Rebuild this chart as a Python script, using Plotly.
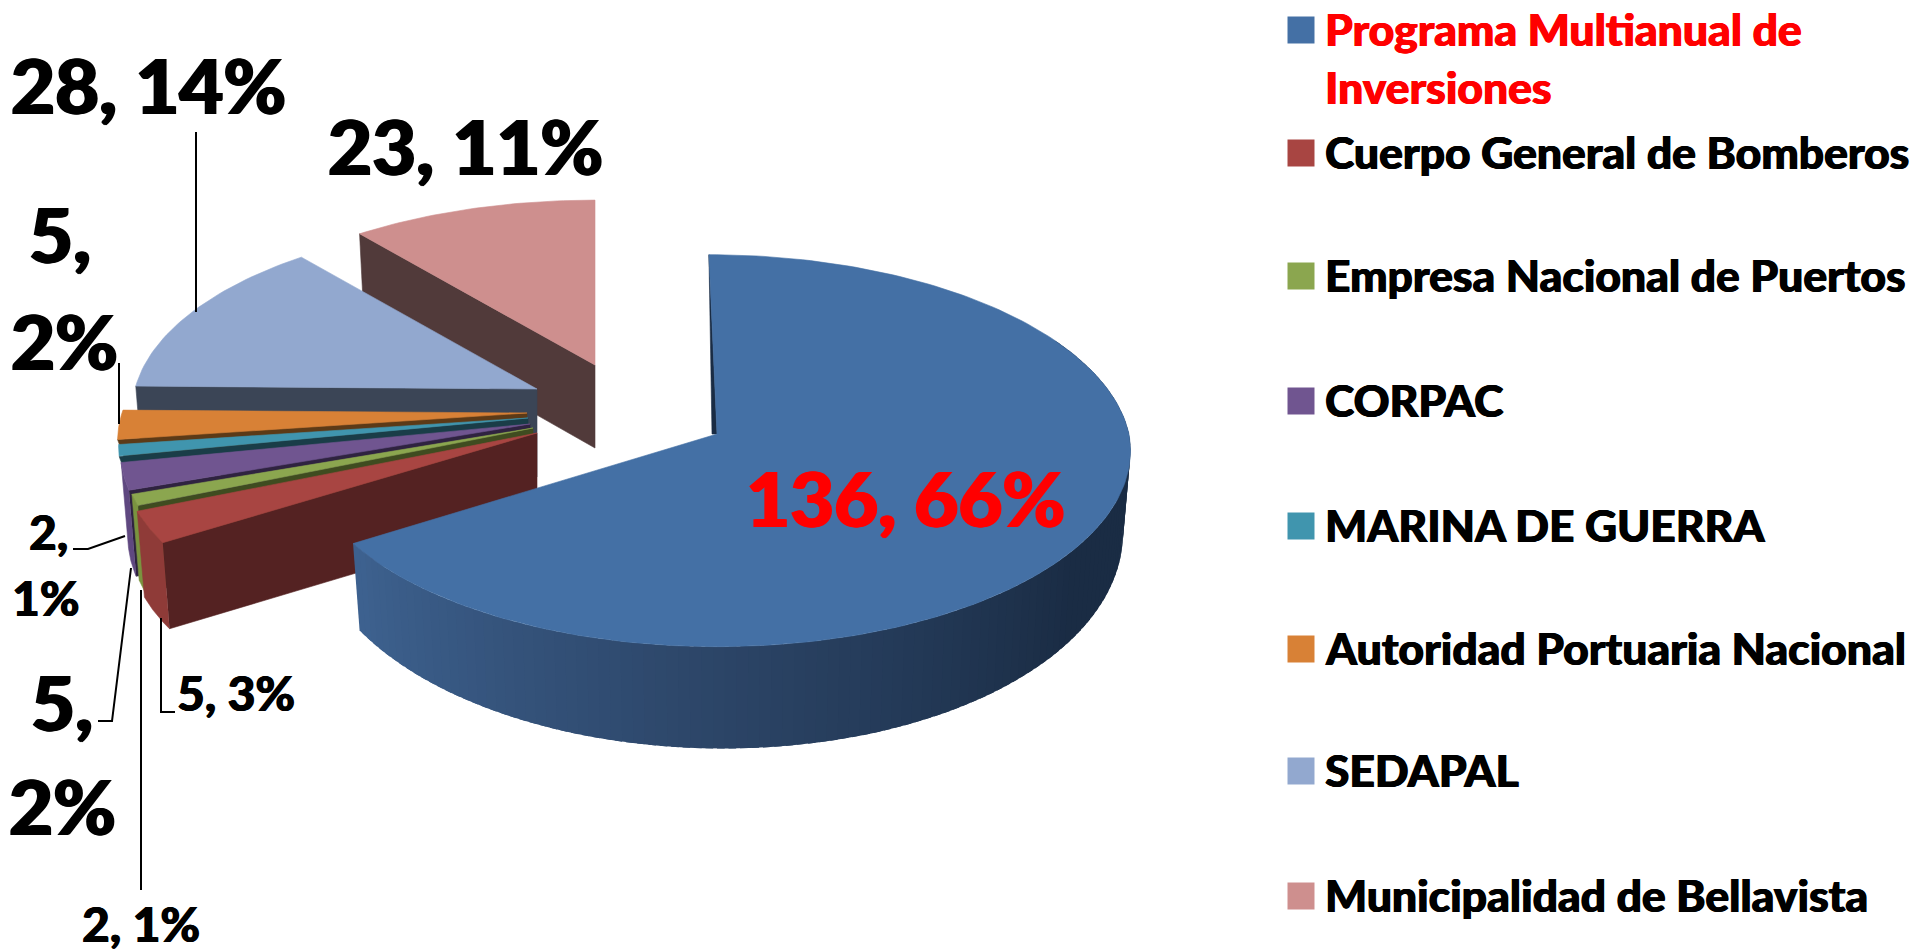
import numpy as np
import plotly.graph_objects as go

# ---- data ----
categories = ["Programa Multianual de<br>Inversiones", "Cuerpo General de Bomberos",
              "Empresa Nacional de Puertos", "CORPAC", "MARINA DE GUERRA",
              "Autoridad Portuaria Nacional", "SEDAPAL", "Municipalidad de Bellavista"]
values = [136, 5.4, 2, 4.6, 2, 5, 28, 23]

top_colors = ["#4470A5", "#A84542", "#8BA64F", "#705590", "#4095AE", "#D88136", "#92A8CF", "#CE8F8E"]
wall_colors = ["#1A2C44", "#542222", "#3F4C20", "#2F2340", "#1A3D48", "#5C3A17", "#3B4556", "#513A3A"]
rim_colors = [None, "#8F3B38", "#7A943F", "#5F4880", None, None, None, None]

# explosion: where each slice's apex ended up, in page pixels
apex_x = [717, 537, 533, 530, 528, 527, 537, 595]
apex_y = [434, 433, 428, 424, 418, 413, 389, 365]
wall_depth = [0, 86, 86, 86, 20, 20, 88, 83]
radius_x = [412, 410, 405, 405, 405, 405, 402, 412]
radius_y = [196, 190, 190, 190, 190, 190, 190, 194]
persp = [0.085, 0.15, 0.15, 0.15, 0.15, 0.15, 0.12, 0.15]

total = sum(values)
edges = 360 * np.cumsum([0] + values) / total
W, H = 1917, 952


def rim(theta, i):
    t = np.radians(theta)
    skew = 0.045 if i == 0 else 0.0
    f = 1 - persp[i] * np.cos(t)
    dx = radius_x[i] * np.sin(t) * f
    dy = -radius_y[i] * np.cos(t) * f
    return apex_x[i] + dx + skew * np.minimum(dy, 0), apex_y[i] + dy


def lower(x, y, i, d):
    return x + (apex_x[i] - x) * 0.018, y + d


fig = go.Figure()


def poly(xs, ys, color, line=0.6):
    fig.add_trace(go.Scatter(x=list(xs), y=list(ys), mode="lines", fill="toself",
                             fillcolor=color, line=dict(color=color, width=line),
                             hoverinfo="skip", showlegend=False))


def seg(xs, ys):
    fig.add_trace(go.Scatter(x=xs, y=ys, mode="lines", line=dict(color="#000000", width=2),
                             hoverinfo="skip", showlegend=False))


# slices painted back to front
for i in [7, 6, 5, 4, 3, 2, 1]:
    a0, a1 = edges[i], edges[i + 1]
    d = wall_depth[i]
    rx0, ry0 = rim(a0, i)
    bx, by = lower(rx0, ry0, i, d)
    poly([rx0, apex_x[i], apex_x[i], bx, rx0], [ry0, apex_y[i], apex_y[i] + d, by, ry0], wall_colors[i])
    th = np.linspace(a0, a1, 40)
    xs, ys = rim(th, i)
    if rim_colors[i]:
        bxs, bys = lower(xs, ys, i, d)
        poly(list(xs) + list(bxs[::-1]), list(ys) + list(bys[::-1]), rim_colors[i])
    poly([apex_x[i]] + list(xs) + [apex_x[i]], [apex_y[i]] + list(ys) + [apex_y[i]], top_colors[i])

# big slice: side with its shading, then the top
a0, a1 = edges[0], edges[1]
grad_t = [60, 125, 180, 237.6]
grad_c = np.array([[26, 44, 68], [26, 44, 68], [44, 69, 103], [62, 98, 144]])


def depth0(theta):
    t = np.radians(theta)
    return 76.3 - 25.5 * np.cos(t) + 3.7 * np.sin(t)


strips = np.arange(60, a1, 1.5).tolist() + [a1]
for s0, s1 in zip(strips[:-1], strips[1:]):
    th = np.linspace(max(s0 - 1.0, 60), s1, 4)
    xs, ys = rim(th, 0)
    bxs, bys = lower(xs, ys, 0, depth0(th))
    mid = (s0 + s1) / 2
    rgb = [np.interp(mid, grad_t, grad_c[:, k]) for k in range(3)]
    col = "rgb(%d,%d,%d)" % tuple(rgb)
    poly(list(xs) + list(bxs[::-1]), list(ys) + list(bys[::-1]), col, 0)

tx, ty = rim(0.0, 0)
poly([tx, apex_x[0] - 5, apex_x[0], tx], [ty, apex_y[0], apex_y[0], ty], wall_colors[0])
th = np.linspace(a0, a1, 200)
xs, ys = rim(th, 0)
poly([apex_x[0]] + list(xs) + [apex_x[0]], [apex_y[0]] + list(ys) + [apex_y[0]], top_colors[0])

# leader lines
seg([196, 196], [132, 312])
seg([119, 119], [363, 424])
seg([73, 88, 125], [549, 549, 536])
seg([98, 112, 131], [721, 721, 568])
seg([141, 141], [590, 890])
seg([175, 161, 161], [712, 712, 618])

# swatches
sw_y = [30, 153, 276, 401, 526, 649, 771, 896]
fig.add_trace(go.Scatter(x=[1301] * 8, y=sw_y, mode="markers",
                         marker=dict(symbol="square", size=27, color=top_colors, line=dict(width=0)),
                         hoverinfo="skip", showlegend=False))


def txt(x, y, s, size, color="#000000", anchor="center"):
    w = 1.2 if size > 60 else 0.6
    shadow = "%.1fpx 0 0 %s, -%.1fpx 0 0 %s" % (w, color, w, color)
    fig.add_annotation(x=x, y=y, xref="x", yref="y", text=s, showarrow=False,
                       xanchor=anchor, yanchor="middle", align="left",
                       font=dict(family="Lato", size=size, color=color, weight=900, shadow=shadow))


def lab(i):
    return "%d" % round(values[i]), "%d%%" % round(100 * values[i] / total)


# legend text
LEG = 44.4
n0 = categories[0].split("<br>")
txt(1323, 28, n0[0], LEG, "#FF0000", "left")
txt(1323, 86, n0[1], LEG, "#FF0000", "left")
for i in range(1, 8):
    txt(1323, sw_y[i] - 2, categories[i], LEG, "#000000", "left")

# data labels
BIG = 76
SMALL = 48
v, p = lab(0); txt(905, 497, "%s, %s" % (v, p), BIG, "#FF0000")
v, p = lab(6); txt(148, 84, "%s, %s" % (v, p), BIG)
v, p = lab(7); txt(465, 145, "%s, %s" % (v, p), BIG)
v, p = lab(5); txt(60, 233, v + ",", BIG); txt(64, 340, p, BIG)
v, p = lab(4); txt(48, 531, v + ",", SMALL); txt(46, 597, p, SMALL)
v, p = lab(3); txt(62, 701, v + ",", BIG); txt(62, 805, p, BIG)
v, p = lab(2); txt(141, 923, "%s, %s" % (v, p), SMALL)
v, p = lab(1); txt(236, 692, "%s, %s" % (v, p), SMALL)

fig.update_layout(width=W, height=H, margin=dict(l=0, r=0, t=0, b=0), autosize=False,
                  paper_bgcolor="#FFFFFF", plot_bgcolor="#FFFFFF", showlegend=False,
                  xaxis=dict(range=[0, W], visible=False, fixedrange=True),
                  yaxis=dict(range=[H, 0], visible=False, fixedrange=True))
fig.write_html("out.html", config=dict(displayModeBar=False),
               post_script="document.body.style.margin='0';document.body.style.overflow='hidden';")
